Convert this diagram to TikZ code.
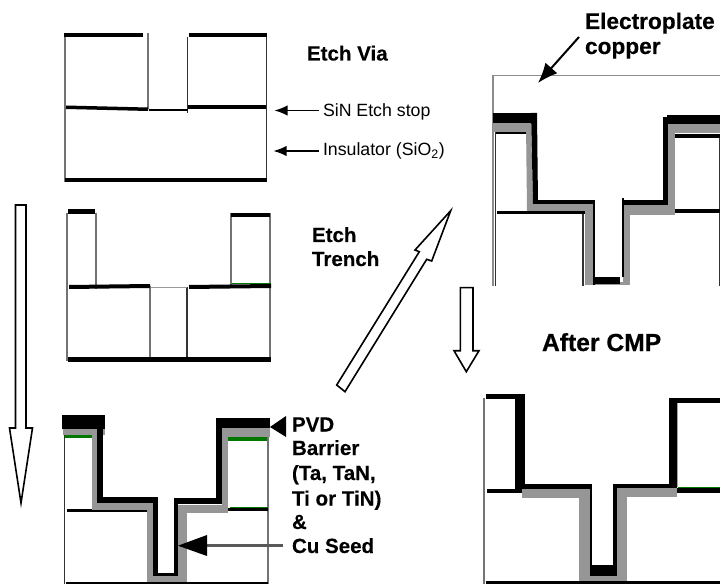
\documentclass[tikz,border=0pt]{standalone}
\usepackage{fontspec}
\setmainfont{Liberation Sans}
\newfontfamily\heavyfont[FakeBold=0.6]{Liberation Sans Bold}
\newfontfamily\semiheavy[FakeBold=0.25]{Liberation Sans Bold}
\usetikzlibrary{arrows.meta}
\definecolor{midgray}{RGB}{150,150,150}
\definecolor{darkgreen}{RGB}{0,120,0}
\tikzset{
  blk/.style={fill=black},
  gry/.style={fill=midgray},
  grn/.style={fill=darkgreen},
  thinline/.style={draw=black!80,line width=0.9pt},
  thingray/.style={draw=black!55,line width=1pt},
  outarrow/.style={draw=black,line width=1.2pt,fill=white,miter limit=10},
  lab/.style={anchor=base west,inner sep=0pt,outer sep=0pt,font=\semiheavy\fontsize{15.4}{18}\selectfont},
  smalllab/.style={anchor=base west,inner sep=0pt,outer sep=0pt,font=\fontsize{13.3}{16}\selectfont},
  pointer/.style={draw=black,line width=1.4pt,-{Latex[length=10pt,width=8pt]}}
}
\begin{document}
\begin{tikzpicture}[x=0.75pt,y=-0.75pt]
\fill[white] (0,0) rectangle (720,584);
\useasboundingbox (0,0) rectangle (720,584);
% --- Panel 1: Etch Via
\draw[thingray] (65,33) -- (65,182);
\draw[thingray] (148,33) -- (148,109);
\draw[thinline] (187.5,37) -- (187.5,113);
\draw[thinline] (266.5,33) -- (266.5,182);
\fill[blk] (64,33) rectangle (143,37.5);
\fill[blk] (189,33) rectangle (267,37.5);
\fill[blk] (66,105.5) -- (148,107.5) -- (148,111) -- (66,109) -- cycle;
\fill[blk] (149,109) rectangle (188,111.5);
\fill[blk] (188,105.5) rectangle (266,109.5);
\fill[blk] (65,178) rectangle (266.5,182.5);
% --- Panel 2: Etch Trench
\draw[thingray] (67,213) -- (67,361);
\draw[thingray] (96,213) -- (96,289);
\draw[thingray] (150,286) -- (150,357);
\draw[thinline] (187,287) -- (187,357);
\draw[thingray] (231,213) -- (231,285);
\draw[thingray] (270,213) -- (270,358);
\draw[draw=black!40,line width=0.8pt] (150,287.5) -- (187,287.5);
\fill[blk] (68,209) rectangle (95,214);
\fill[blk] (231,213) rectangle (270,217);
\fill[blk] (69,285) -- (150,284) -- (150,288) -- (69,289) -- cycle;
\fill[blk] (189,285) -- (271,284) -- (271,288) -- (189,289) -- cycle;
\fill[grn] (232,283) rectangle (271,284.2);
\fill[blk] (68,357) rectangle (271,361.5);
% --- Panel 3: PVD barrier and Cu seed
\draw[thinline] (64.5,435) -- (64.5,584);
\draw[thingray] (268,437) -- (268,584);
\fill[blk] (67,509) rectangle (147,512);
\fill[blk] (227,507.5) rectangle (268,511);
\fill[grn] (230,507) rectangle (268,508);
\fill[grn] (65,435) rectangle (92,437.5);
\fill[grn] (228,437) rectangle (267,441);
\fill[gry] (63,429) rectangle (105,435);
\fill[gry] (92,435) rectangle (97,505);
\fill[gry] (92,503) rectangle (154,510);
\fill[gry] (147,505) rectangle (154,583);
\fill[gry] (147,576) rectangle (187,583);
\fill[gry] (178,505) rectangle (187,584);
\fill[gry] (178,505) rectangle (227,513);
\fill[gry] (222,428) rectangle (228,513);
\fill[gry] (222,428) rectangle (270,437);
\fill[blk] (62,415) rectangle (105,429);
\fill[blk] (97,429) rectangle (103,503);
\fill[blk] (97,497) rectangle (158,503);
\fill[blk] (153,497) rectangle (158,576);
\fill[blk] (153,573) rectangle (178,576);
\fill[blk] (174,498) rectangle (178,576);
\fill[blk] (174,498) rectangle (222,504);
\fill[blk] (216,418) rectangle (222,504);
\fill[blk] (216,418) rectangle (270,428);
\fill[blk] (66,582) rectangle (268,584);
% --- Panel 4: Electroplate copper
\draw[thingray,draw=black!45] (493,286) -- (493,75.5) -- (720,75.5);
\draw[thinline] (495.5,132) -- (495.5,286);
\draw[thinline] (583,213) -- (583,286);
\draw[thinline] (719.3,137) -- (719.3,286);
\fill[blk] (497,211) rectangle (585,214);
\fill[blk] (674,209.5) rectangle (720,213.5);
\fill[blk] (496,132) rectangle (526,134);
\fill[blk] (675,134) rectangle (720,138);
\fill[gry] (493,123) rectangle (530,132);
\fill[gry] (526,123) -- (531,123) -- (533,204) -- (527,211) -- cycle;
\fill[gry] (527,204) rectangle (593,211);
\fill[gry] (585,204) rectangle (593,285);
\fill[gry] (593,282) rectangle (630,285);
\fill[gry] (623,214) rectangle (630,285);
\fill[gry] (623,205) rectangle (674,215);
\fill[gry] (668,124) rectangle (675,215);
\fill[gry] (668,124) rectangle (720,133);
\fill[blk] (493,113) rectangle (537,123);
\fill[blk] (531,113) -- (537,113) -- (538,204) -- (533,204) -- cycle;
\fill[blk] (533,200) rectangle (594,204.5);
\fill[blk] (593,200) rectangle (595,285);
\fill[blk] (593,277) rectangle (620,284);
\fill[blk] (622,198) rectangle (623.5,277);
\fill[blk] (622,200) rectangle (665,205);
\fill[blk] (663,117) rectangle (668,205);
\fill[blk] (667,115) rectangle (720,124);
% --- Panel 5: After CMP
\draw[thingray] (484,398) -- (484,584);
\draw[draw=black!35,line width=0.8pt] (677.5,403) -- (677.5,487);
\fill[blk] (487,488.5) rectangle (522,493);
\fill[blk] (677,488) rectangle (720,493);
\fill[grn] (678,487) rectangle (720,488);
\fill[gry] (522,489) rectangle (590,498);
\fill[gry] (579,489) rectangle (590,583);
\fill[gry] (579,576) rectangle (627,583);
\fill[gry] (617,488) rectangle (627,583);
\fill[gry] (614,488) rectangle (677,497);
\fill[blk] (486,394) rectangle (525,399);
\fill[blk] (515,394) rectangle (525,489);
\fill[blk] (520,484) rectangle (591,489);
\fill[blk] (590,484) rectangle (591.5,576);
\fill[blk] (590,565) rectangle (617,576);
\fill[blk] (613,484) rectangle (617,576);
\fill[blk] (617,484) rectangle (677,488);
\fill[blk] (669,398) rectangle (677,488);
\fill[blk] (669,398) rectangle (720,403);
\fill[blk] (486,581) rectangle (720,584);
% --- Big outlined arrows
\draw[outarrow] (15.5,205) -- (26,205) -- (26,428) -- (32.5,428) -- (21,503) -- (9.5,428) -- (15.5,428) -- cycle;
\draw[outarrow] (336.7,385) -- (419.3,251.7) -- (415,250) -- (450.7,210.7) -- (431.7,261) -- (426.7,259.3) -- (345,391.7) -- cycle;
\draw[outarrow] (460.3,287.7) -- (473,287.7) -- (473,350.7) -- (479,350.7) -- (466.3,371.7) -- (454,350.7) -- (460.3,350.7) -- cycle;
% --- Labels
\node[lab] (etchvia) at (307,60.5) {Etch Via};
\node[lab] (etch) at (312,242) {Etch};
\node[lab] (trench) at (312,266) {Trench};
\node[smalllab] (sin) at (323,116.5) {SiN Etch stop};
\node[smalllab] (ins) at (323,156) {Insulator (SiO\textsubscript{2})};
\node[lab,font=\semiheavy\fontsize{17}{20}\selectfont] (electro) at (585,29) {Electroplate};
\node[lab,font=\semiheavy\fontsize{17}{20}\selectfont] (copper) at (585,54) {copper};
\node[lab,font=\heavyfont\fontsize{18.5}{22}\selectfont] (cmp) at (542,351) {After CMP};
\node[lab] (pvd) at (292,431.5) {PVD};
\node[lab] (barrier) at (292,455) {Barrier};
\node[lab] (tatan) at (292,480) {(Ta, TaN,};
\node[lab] (titin) at (292,505.5) {Ti or TiN)};
\node[lab] (amp) at (292,529) {\&};
\node[lab] (seed) at (292,553) {Cu Seed};
% --- Pointers
\coordinate (sintip) at (274.3,110.5);
\coordinate (instip) at (273.3,151);
\coordinate (platetip) at (538,83);
\coordinate (platefrom) at (579,37);
\coordinate (pvdtip) at (270,427);
\coordinate (seedtip) at (178,545.7);
\coordinate (seedfrom) at (283,545.7);
\draw[pointer] (319,110.5) -- (sintip);
\draw[pointer] (318.5,151) -- (instip);
\draw[draw=black,line width=1.5pt,-{Latex[length=15pt,width=12pt]}] (platefrom) -- (platetip);
\fill[blk] (pvdtip) -- (286,416) -- (286,437) -- cycle;
\draw[draw=black!65,line width=2.6pt] (seedfrom) -- (205,545.7);
\fill[blk] (seedtip) -- (207,535) -- (207,556) -- cycle;
\end{tikzpicture}
\end{document}
